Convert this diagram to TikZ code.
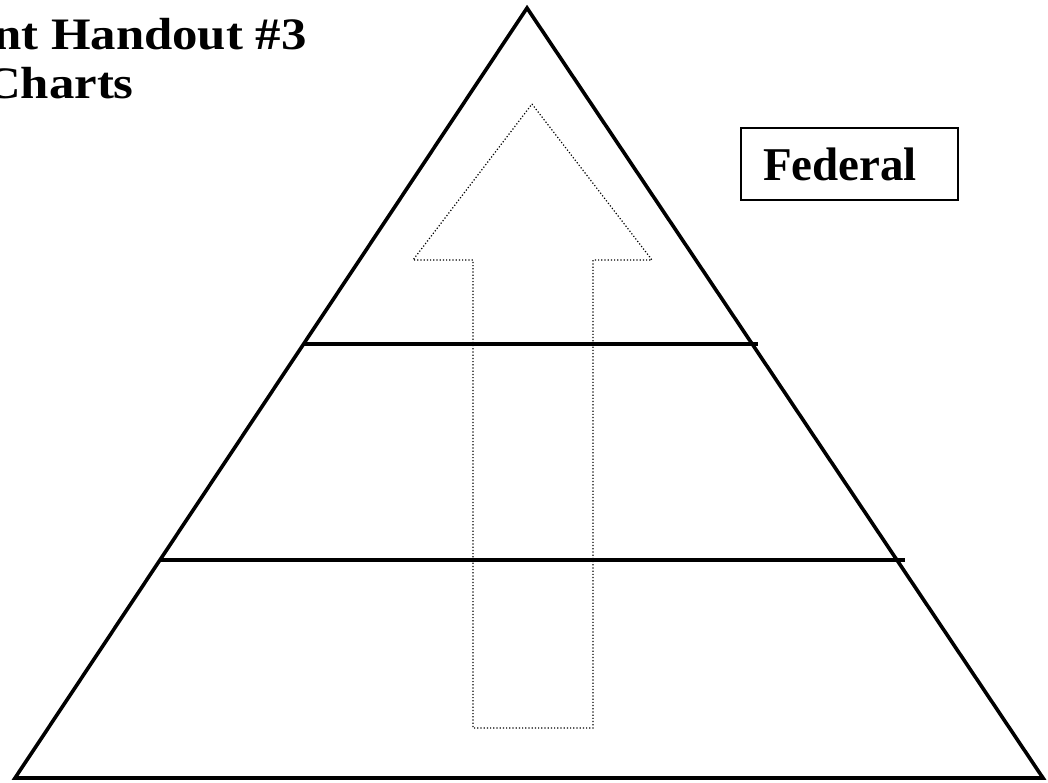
\documentclass[tikz,border=0pt]{standalone}
\usepackage{fontspec}
\setmainfont{Liberation Serif}
\begin{document}
\begin{tikzpicture}[x=1pt,y=-1pt,
  thick line/.style={line width=3.6pt},
  dotline/.style={line width=1.2pt, dash pattern=on 1.2pt off 2pt},
  titletext/.style={inner sep=0pt, xscale=1.13, font=\fontsize{45}{54}\selectfont\bfseries},
  labelbox/.style={draw, line width=2.2pt, inner sep=0pt, minimum width=217pt, minimum height=72pt, font=\fontsize{47}{54}\selectfont\bfseries}]
\useasboundingbox (0,0) rectangle (1048,783);
\begin{scope}
\clip (0,0) rectangle (1048,783);
% title
\node[titletext, anchor=base east] (t1) at (307,50) {nt Handout \#3};
\node[titletext, anchor=base east] (t2) at (134,99) {Charts};
\end{scope}
% triangle
\draw[thick line, line join=miter] (527,8) -- (15,778) -- (1043,778) -- cycle;
% horizontal dividers
\draw[thick line] (303,344) -- (758,344);
\draw[thick line] (160,560) -- (905,560);
% dotted arrow
\draw[dotline] (532,104) -- (652,260) -- (593,260) -- (593,728) -- (473,728) -- (473,260) -- (413,260) -- cycle;
% federal box
\node[labelbox] (fed) at (849.5,164) {Federal\hspace*{19pt}};
\end{tikzpicture}
\end{document}
